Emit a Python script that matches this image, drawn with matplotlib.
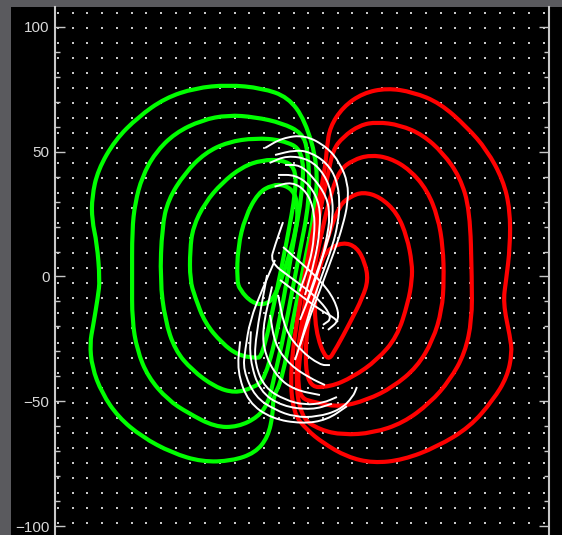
import numpy as np
import matplotlib.pyplot as plt
from matplotlib.patches import Rectangle, PathPatch
from matplotlib.path import Path
from matplotlib.ticker import MultipleLocator

# contour loops (data units), negative polarity = green, positive = red
green_loops = [
    [(1.2, 62.7), (-5.6, 71.9), (-16.0, 75.5), (-29.7, 76.8), (-42.9, 75.5), (-54.9, 71.5),
     (-65.7, 63.9), (-74.9, 54.7), (-81.8, 42.7), (-84.2, 31.9), (-84.2, 22.6), (-82.2, 13.4),
     (-81.0, -1.4), (-81.8, -8.2), (-83.8, -20.2), (-85.0, -26.7), (-84.2, -36.3), (-80.2, -46.7),
     (-73.7, -56.3), (-64.1, -64.3), (-52.1, -70.7), (-40.1, -74.3), (-28.1, -73.9), (-18.8, -70.7),
     (-13.6, -64.3), (-11.6, -54.7), (-11.6, -48.3), (-8.0, -41.5), (-3.6, -17.4), (1.2, 6.6),
     (5.2, 26.7), (6.4, 44.7)],
    [(0.0, 57.5), (-8.0, 61.5), (-18.8, 63.9), (-29.7, 64.7), (-40.1, 62.7), (-50.9, 57.5),
     (-58.9, 49.5), (-64.1, 39.9), (-66.9, 29.5), (-68.1, 18.6), (-68.1, -1.4), (-68.1, -17.4),
     (-66.1, -29.5), (-61.7, -40.3), (-53.7, -49.5), (-45.7, -54.7), (-34.9, -60.3), (-25.7, -60.3),
     (-17.6, -56.3), (-13.6, -50.7), (-12.0, -44.3), (-6.8, -21.4), (-1.6, 6.6), (3.2, 30.7),
     (2.4, 50.7)],
    [(0.4, 50.7), (-8.0, 54.7), (-18.8, 55.5), (-29.7, 53.9), (-38.9, 49.5), (-46.9, 41.5),
     (-53.7, 30.7), (-56.1, 19.8), (-56.9, -1.4), (-54.9, -17.4), (-50.9, -29.5), (-44.1, -37.5),
     (-34.9, -44.3), (-26.9, -46.7), (-20.0, -44.7), (-14.8, -41.5), (-8.8, -17.4), (-4.0, 10.6),
     (0.4, 34.7)],
    [(-2.8, 43.9), (-8.0, 46.7), (-16.0, 46.7), (-24.0, 43.9), (-32.1, 37.5), (-38.9, 29.5),
     (-43.7, 19.8), (-44.9, 10.6), (-44.9, -1.4), (-42.9, -8.2), (-38.9, -18.6), (-32.1, -26.7),
     (-25.7, -31.5), (-18.8, -32.7), (-16.0, -32.3), (-10.8, -9.4), (-6.0, 14.6), (-2.4, 34.7)],
    [(-1.6, 26.7), (-2.8, 33.5), (-6.8, 36.7), (-12.0, 36.7), (-17.6, 33.5), (-22.8, 23.8),
     (-25.7, 11.8), (-26.1, -1.4), (-24.9, -5.4), (-20.0, -10.6), (-14.8, -11.4), (-10.8, -8.2),
     (-5.6, 6.6), (-2.4, 18.6)],
]

red_loops = [
    [(10.0, 51.9), (11.2, 59.9), (16.4, 67.9), (24.4, 73.5), (34.1, 75.5), (44.5, 73.9),
     (55.3, 69.5), (66.1, 59.9), (74.1, 50.7), (80.6, 38.7), (83.4, 26.7), (83.4, 11.8),
     (81.8, -1.4), (80.6, -10.6), (83.4, -24.2), (84.2, -30.7), (82.2, -40.3), (76.6, -49.5),
     (67.3, -60.3), (54.1, -68.3), (40.5, -73.5), (28.5, -74.8), (18.0, -72.3), (8.4, -66.7),
     (2.0, -61.5), (-3.6, -54.7), (-4.8, -37.5), (-0.8, -9.4), (5.2, 22.6), (9.2, 42.7)],
    [(12.4, 50.7), (16.4, 55.9), (23.2, 60.7), (30.1, 61.9), (39.3, 60.7), (48.5, 56.7),
     (56.5, 49.5), (63.3, 39.9), (67.3, 26.7), (68.1, -1.4), (68.1, -17.4), (65.3, -30.7),
     (59.3, -41.5), (51.3, -50.7), (40.5, -58.7), (28.5, -62.7), (16.4, -63.5), (7.2, -61.5),
     (-0.8, -56.3), (-2.8, -37.5), (1.2, -9.4), (6.4, 22.6), (10.4, 40.7)],
    [(15.2, 42.7), (20.4, 46.7), (27.3, 48.7), (35.3, 47.5), (43.3, 42.7), (50.1, 34.7),
     (54.5, 23.8), (56.5, 11.8), (56.9, -1.4), (56.1, -13.4), (52.5, -25.5), (46.1, -36.3),
     (36.5, -44.3), (26.1, -49.5), (15.2, -52.3), (6.0, -50.7), (-2.0, -48.3), (-0.8, -29.5),
     (3.2, -5.4), (8.0, 18.6), (12.0, 34.7)],
    [(19.2, 31.9), (24.4, 33.9), (31.3, 31.9), (38.1, 25.5), (42.1, 15.8), (44.1, 5.4),
     (44.1, -1.4), (42.5, -10.6), (38.1, -24.2), (30.1, -33.5), (20.4, -40.3), (11.2, -44.3),
     (2.0, -44.3), (1.2, -25.5), (5.2, -1.4), (11.2, 18.6), (15.2, 28.7)],
    [(10.0, 10.6), (16.4, 13.8), (22.0, 11.8), (25.3, 5.4), (26.5, -1.4), (24.4, -8.2),
     (19.2, -18.6), (14.0, -28.3), (10.0, -34.7), (5.2, -21.4), (5.2, -5.4), (7.2, 4.6)],
]

# field lines of the twisted flux rope
field_lines = [
    [(-14.8, 51.5), (-8.0, 55.5), (1.2, 56.7), (10.0, 51.9), (15.2, 45.5), (18.4, 37.5),
     (18.4, 29.5), (16.4, 20.6), (13.2, 10.6), (7.2, -5.4), (1.2, -21.4), (-2.8, -33.5)],
    [(-10.8, 48.7), (-2.8, 50.7), (3.2, 49.9), (10.0, 45.5), (14.0, 38.7), (15.2, 29.5),
     (14.4, 21.4), (12.4, 12.6), (8.0, 0.6), (3.2, -13.4), (-0.8, -27.5)],
    [(-13.0, 45.5), (-6.0, 48.5), (3.0, 47.0), (9.0, 41.0), (12.0, 33.0), (12.5, 24.0),
     (10.5, 14.0), (6.0, 2.0), (2.0, -10.0)],
    [(-6.8, 44.7), (-0.8, 44.7), (4.4, 39.9), (10.0, 31.9), (11.2, 23.8), (10.0, 15.8),
     (8.0, 6.6), (4.0, -5.4), (-0.8, -17.4)],
    [(-9.6, 40.7), (-2.8, 40.7), (3.2, 36.7), (7.2, 28.7), (7.2, 18.6), (5.2, 6.6), (1.2, -7.4)],
    [(-11.0, 36.0), (-4.0, 38.0), (2.0, 34.0), (5.0, 26.0), (5.0, 16.0), (3.0, 5.0), (-1.0, -6.0)],
    [(-7.6, 21.8), (-10.8, 12.6), (-12.8, 5.8), (-4.8, -0.2), (6.0, -8.2), (12.4, -16.6), (8.4, -19.4)],
    [(-7.6, 11.8), (-0.8, 5.8), (7.2, -1.4), (13.2, -9.4), (15.2, -17.4), (10.4, -21.4)],
    [(-8.8, -1.4), (-0.8, -7.4), (7.2, -13.4), (12.4, -16.2), (14.4, -18.2)],
    [(-10.8, 6.6), (-16.0, -5.4), (-20.8, -17.4), (-22.8, -29.5), (-23.6, -37.5), (-18.8, -48.3),
     (-10.8, -53.5), (-2.8, -56.3), (6.0, -56.3), (15.2, -53.5), (20.4, -48.3), (22.0, -44.3)],
    [(-24.8, -26.0), (-26.0, -38.0), (-21.5, -50.5), (-12.0, -57.0), (0.0, -59.0), (10.0, -57.5),
     (18.0, -52.0)],
    [(-20.5, -22.0), (-21.0, -33.0), (-17.0, -46.0), (-8.0, -52.0), (4.0, -53.5), (12.0, -51.0)],
    [(-14.0, 0.6), (-18.8, -25.5), (-18.8, -35.5), (-14.8, -44.7), (-6.8, -49.5), (1.2, -51.5),
     (8.4, -50.7), (14.0, -48.3)],
    [(-12.0, -4.0), (-16.0, -21.4), (-14.8, -31.5), (-9.6, -40.7), (-2.8, -45.5), (7.2, -47.5)],
    [(-12.8, -15.4), (-10.8, -27.5), (-4.8, -35.5), (3.2, -40.7), (9.2, -43.5)],
    [(-9.6, -7.4), (-6.8, -21.4), (-0.8, -29.5), (7.2, -35.5), (11.2, -35.5)],
]

# sampling grid of the (tiny) transverse field vectors
grid_x = np.arange(-97.8, 99, 5.9)
grid_y = np.arange(105.4, -106, -6.0)


def smooth_path(pts, closed):
    # quadratic Bezier through midpoints, so matplotlib draws a smooth curve
    p = np.asarray(pts, float)
    if closed:
        mids = (p + np.roll(p, -1, axis=0)) / 2
        verts = [mids[-1]]
        codes = [Path.MOVETO]
        for i in range(len(p)):
            verts += [p[i], mids[i]]
            codes += [Path.CURVE3, Path.CURVE3]
    else:
        mids = (p[:-1] + p[1:]) / 2
        verts = [p[0], mids[0]]
        codes = [Path.MOVETO, Path.LINETO]
        for i in range(1, len(p) - 1):
            verts += [p[i], mids[i]]
            codes += [Path.CURVE3, Path.CURVE3]
        verts.append(p[-1])
        codes.append(Path.LINETO)
    return Path(verts, codes)


fig = plt.figure(figsize=(5.62, 5.35), dpi=100, facecolor='#5a5a5e')
bg = Rectangle((11 / 562, 0), 1, 1 - 7 / 535, transform=fig.transFigure,
               facecolor='black', edgecolor='none', zorder=-10)
fig.patches.append(bg)

ax = fig.add_axes([55 / 562, 0, 494 / 562, 1 - 7 / 535], zorder=5)
ax.set_facecolor('black')
ax.set_xlim(-99, 99)
ax.set_ylim(-103.6, 108)

gx, gy = np.meshgrid(grid_x, grid_y)
ax.scatter(gx.ravel(), gy.ravel(), s=1.3, marker='s', color='#c8c8c8', linewidths=0, zorder=1)

for loop in green_loops:
    ax.add_patch(PathPatch(smooth_path(loop, True), facecolor='none', edgecolor='#00ff00',
                           lw=3.0, zorder=2))
for loop in red_loops:
    ax.add_patch(PathPatch(smooth_path(loop, True), facecolor='none', edgecolor='#ff0000',
                           lw=3.0, zorder=3))
for line in field_lines:
    ax.add_patch(PathPatch(smooth_path(line, False), facecolor='none', edgecolor='white',
                           lw=1.4, zorder=4))

for side in ['top', 'bottom']:
    ax.spines[side].set_visible(False)
for side in ['left', 'right']:
    ax.spines[side].set_color('#c8c8c8')
    ax.spines[side].set_linewidth(1.5)

ax.set_xticks([])
ax.yaxis.set_major_locator(MultipleLocator(50))
ax.yaxis.set_minor_locator(MultipleLocator(10))
ax.tick_params(axis='y', which='both', direction='in', left=True, right=True,
               color='#c8c8c8', labelcolor='#d8d8d8', labelsize=11, pad=4)
ax.tick_params(axis='y', which='major', length=7.5, width=1.0)
ax.tick_params(axis='y', which='minor', length=3.6, width=1.0)
for lab in ax.get_yticklabels():
    lab.set_family('Liberation Sans')

fig.savefig('out.png', dpi=100, facecolor=fig.get_facecolor())
